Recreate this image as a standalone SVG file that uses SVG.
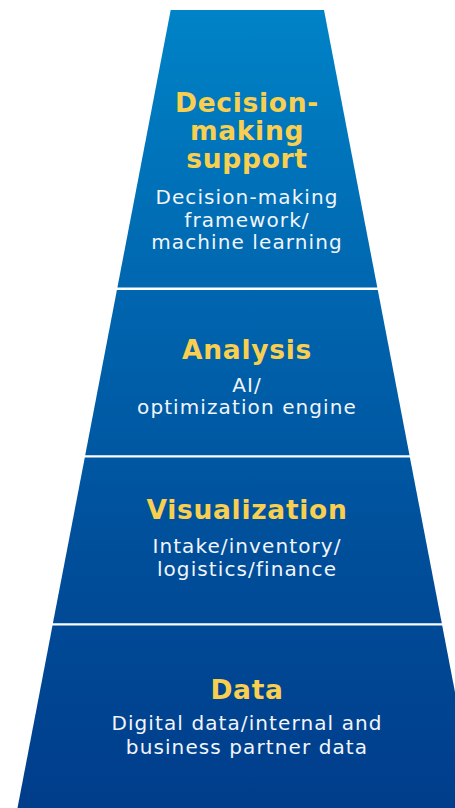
<svg xmlns="http://www.w3.org/2000/svg" width="455" height="808" viewBox="0 0 455 808">
<defs>
<linearGradient id="g" gradientUnits="userSpaceOnUse" x1="0" y1="10" x2="0" y2="808">
<stop offset="0" stop-color="#0083C7"/>
<stop offset="0.35" stop-color="#0066AF"/>
<stop offset="0.7" stop-color="#004D99"/>
<stop offset="1" stop-color="#003D8B"/>
</linearGradient>
<style>
.band{fill:url(#g);}
.t{font-family:"DejaVu Sans","Noto Sans",sans-serif;font-weight:bold;font-size:26.5px;fill:#F9CF50;text-anchor:middle;letter-spacing:0.7px;}
.s{font-family:"DejaVu Sans","Noto Sans",sans-serif;font-size:20px;fill:#F2F5FA;text-anchor:middle;letter-spacing:1.1px;}
</style>
</defs>
<rect width="455" height="808" fill="#FFFFFF"/>
<g id="decision">
<polygon class="band" points="170.7,10 324,10 377.3,287.5 117.4,287.5"/>
<text class="t" x="247" y="112">Decision-</text>
<text class="t" x="247" y="140">making</text>
<text class="t" x="247" y="168">support</text>
<text class="s" x="247" y="204">Decision-making</text>
<text class="s" x="247" y="226.5">framework/</text>
<text class="s" x="247" y="249">machine learning</text>
</g>
<g id="analysis">
<polygon class="band" points="116.9,290 377.8,290 409.5,455.3 85.2,455.3"/>
<text class="t" x="247" y="358.5">Analysis</text>
<text class="s" x="247" y="391.7">AI/</text>
<text class="s" x="247" y="413.5">optimization engine</text>
</g>
<g id="visualization">
<polygon class="band" points="84.8,457.5 409.9,457.5 441.8,623.3 52.9,623.3"/>
<text class="t" x="247" y="518.5">Visualization</text>
<text class="s" x="247" y="553.3">Intake/inventory/</text>
<text class="s" x="247" y="575.5">logistics/finance</text>
</g>
<g id="data">
<polygon class="band" points="52.5,625.5 442.2,625.5 477.2,808 17.5,808"/>
<text class="t" x="247" y="698.5">Data</text>
<text class="s" x="247" y="730">Digital data/internal and</text>
<text class="s" x="247" y="754.3">business partner data</text>
</g>
<g id="connectors"/>
</svg>
